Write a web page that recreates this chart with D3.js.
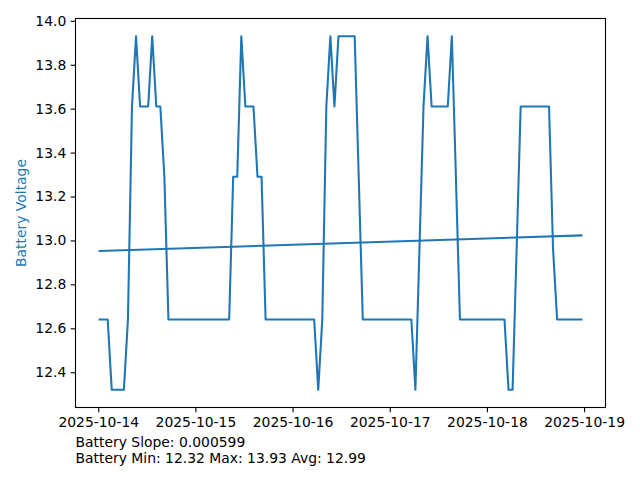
<!DOCTYPE html>
<html>
<head>
<meta charset="utf-8">
<script src="https://cdn.jsdelivr.net/npm/d3@7"></script>
<style>
  html, body { margin: 0; padding: 0; background: #fff; }
  svg { display: block; font-family: "DejaVu Sans", sans-serif; }
</style>
</head>
<body>
<svg id="chart" width="640" height="480"></svg>
<script>
// ---- data ----
const startTime = "2025-10-14T00:20:00Z";   // first hourly sample
const voltages = [
  12.64, 12.64, 12.64, 12.32, 12.32, 12.32, 12.32, 12.64, 13.61, 13.93,
  13.61, 13.61, 13.61, 13.93, 13.61, 13.61, 13.29, 12.64, 12.64, 12.64,
  12.64, 12.64, 12.64, 12.64, 12.64, 12.64, 12.64, 12.64, 12.64, 12.64,
  12.64, 12.64, 12.64, 13.29, 13.29, 13.93, 13.61, 13.61, 13.61, 13.29,
  13.29, 12.64, 12.64, 12.64, 12.64, 12.64, 12.64, 12.64, 12.64, 12.64,
  12.64, 12.64, 12.64, 12.64, 12.32, 12.64, 13.61, 13.93, 13.61, 13.93,
  13.93, 13.93, 13.93, 13.93, 13.29, 12.64, 12.64, 12.64, 12.64, 12.64,
  12.64, 12.64, 12.64, 12.64, 12.64, 12.64, 12.64, 12.64, 12.32, 12.96,
  13.61, 13.93, 13.61, 13.61, 13.61, 13.61, 13.61, 13.93, 13.29, 12.64,
  12.64, 12.64, 12.64, 12.64, 12.64, 12.64, 12.64, 12.64, 12.64, 12.64,
  12.64, 12.32, 12.32, 12.96, 13.61, 13.61, 13.61, 13.61, 13.61, 13.61,
  13.61, 13.61, 12.96, 12.64, 12.64, 12.64, 12.64, 12.64, 12.64, 12.64
];
const trendValues = [12.952, 13.023];          // trend at first and last sample
const yTicks = [12.4, 12.6, 12.8, 13.0, 13.2, 13.4, 13.6, 13.8, 14.0];
const xTickLabels = ["2025-10-14", "2025-10-15", "2025-10-16", "2025-10-17", "2025-10-18", "2025-10-19"];
const yLabel = "Battery Voltage";
const footerLines = ["Battery Slope: 0.000599", "Battery Min: 12.32 Max: 13.93 Avg: 12.99"];

// ---- layout ----
const svg = d3.select("#chart");
const plotLeft = 75.5, plotRight = 605.5, plotTop = 18.5, plotBottom = 407.5;
const blue = "#1f77b4";
const fontSize = 13.9;

const t0 = new Date(startTime);
const points = voltages.map((v, i) => ({ t: d3.utcHour.offset(t0, i), v }));
const tMin = points[0].t, tMax = points[points.length - 1].t;
const span = tMax - tMin;
const xScale = d3.scaleUtc()
  .domain([new Date(+tMin - span * 0.05), new Date(+tMax + span * 0.05)])
  .range([plotLeft, plotRight]);

const vMin = d3.min(voltages), vMax = d3.max(voltages);
const vr = vMax - vMin;
const yScale = d3.scaleLinear()
  .domain([vMin - vr * 0.05, vMax + vr * 0.05])
  .range([plotBottom, plotTop]);

const parseDay = d3.utcParse("%Y-%m-%d");

// lines
const line = d3.line().x(d => xScale(d.t)).y(d => yScale(d.v));
svg.append("path")
  .datum(points)
  .attr("d", line)
  .attr("fill", "none")
  .attr("stroke", blue)
  .attr("stroke-width", 2.08)
  .attr("stroke-linejoin", "round")
  .attr("stroke-linecap", "square");

const trendPts = [{ t: tMin, v: trendValues[0] }, { t: tMax, v: trendValues[1] }];
svg.append("path")
  .datum(trendPts)
  .attr("d", line)
  .attr("fill", "none")
  .attr("stroke", blue)
  .attr("stroke-width", 2.08)
  .attr("stroke-linecap", "square");

// axes
const xAxis = d3.axisBottom(xScale)
  .tickValues(xTickLabels.map(parseDay))
  .tickFormat(d3.utcFormat("%Y-%m-%d"))
  .tickSize(4.86).tickPadding(4.4);
const gx = svg.append("g").attr("transform", `translate(0,${plotBottom})`).call(xAxis);

const yAxis = d3.axisLeft(yScale)
  .tickValues(yTicks)
  .tickFormat(d3.format(".1f"))
  .tickSize(4.86).tickPadding(4.4);
const gy = svg.append("g").attr("transform", `translate(${plotLeft},0)`).call(yAxis);

[gx, gy].forEach(g => {
  g.select(".domain").remove();
  g.selectAll(".tick line").attr("stroke", "#000").attr("stroke-width", 1.1);
  g.selectAll(".tick text")
    .attr("fill", "#000")
    .style("font-family", "'DejaVu Sans', sans-serif")
    .style("font-size", fontSize + "px");
});

// frame
svg.append("rect")
  .attr("x", plotLeft).attr("y", plotTop)
  .attr("width", plotRight - plotLeft).attr("height", plotBottom - plotTop)
  .attr("fill", "none").attr("stroke", "#000").attr("stroke-width", 1.1);

// y label
svg.append("text")
  .attr("transform", `translate(25.5,${(plotTop + plotBottom) / 2}) rotate(-90)`)
  .attr("text-anchor", "middle")
  .attr("fill", blue)
  .style("font-size", fontSize + "px")
  .text(yLabel);

// footer
svg.selectAll("text.footer")
  .data(footerLines)
  .enter().append("text")
  .attr("class", "footer")
  .attr("x", 75.5)
  .attr("y", (d, i) => 446.5 + i * 16)
  .attr("fill", "#000")
  .style("font-size", fontSize + "px")
  .text(d => d);
</script>
</body>
</html>
